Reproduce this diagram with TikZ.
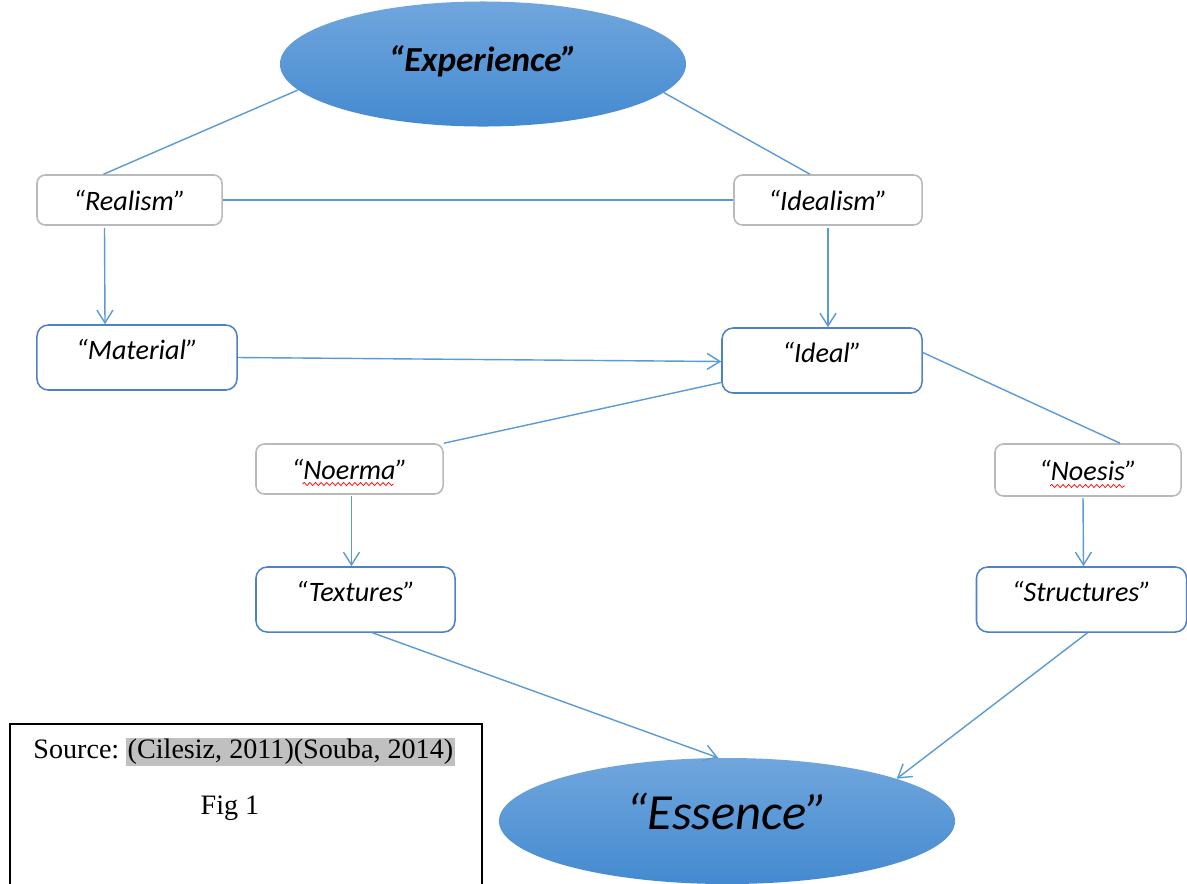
\documentclass[tikz,border=0pt]{standalone}
\usepackage{fontspec}
\setmainfont{Liberation Serif}
\newfontfamily\carl{Carlito}
\usetikzlibrary{shapes.geometric,arrows.meta,calc,decorations.pathmorphing}
\definecolor{lnblue}{RGB}{91,155,213}
\definecolor{bxblue}{RGB}{79,129,201}
\definecolor{bxgray}{RGB}{185,185,185}
\definecolor{elltop}{RGB}{112,166,221}
\definecolor{ellbot}{RGB}{68,138,208}
\definecolor{hlgray}{RGB}{192,192,192}
\tikzset{
  lbl/.style={font=\carl\itshape\fontsize{20}{22}\selectfont, text=black},
  graybox/.style={lbl, draw=bxgray, line width=1.1pt, rounded corners=6pt, fill=white},
  bluebox/.style={lbl, draw=bxblue, line width=1.1pt, rounded corners=8pt, fill=white, text depth=11pt},
  oval/.style={ellipse, draw=none, top color=elltop, bottom color=ellbot, inner sep=0pt},
  conn/.style={draw=lnblue, line width=1pt},
  arr/.style={conn, -{Straight Barb[length=3.2mm,width=4mm,line width=1pt]}},
  squig/.style={draw=red, line width=0.5pt, decorate, decoration={snake, segment length=4, amplitude=1.1}}
}
\begin{document}
\begin{tikzpicture}[x=0.025cm, y=-0.025cm]
\useasboundingbox (0,0) rectangle (1187,883);
\clip (0,0) rectangle (1187,883);
\fill[white] (0,0) rectangle (1187,883);

\node[oval, minimum width=10.15cm, minimum height=3.125cm, text depth=0.25cm,
  font=\carl\bfseries\itshape\fontsize{25}{29}\selectfont] (exp) at (483,64) {“Experience”};
\node[oval, minimum width=11.4cm, minimum height=3.15cm, text depth=0.5cm,
  font=\carl\itshape\fontsize{36}{40}\selectfont] (ess) at (727,821) {“Essence”};

\node[graybox, minimum width=4.625cm, minimum height=1.25cm] (realism) at (129.5,200) {“Realism”};
\node[graybox, minimum width=4.7cm, minimum height=1.25cm] (idealism) at (828,200) {“Idealism”};
\node[bluebox, minimum width=5cm, minimum height=1.625cm] (material) at (137,357.5) {“Material”};
\node[bluebox, minimum width=5cm, minimum height=1.625cm] (ideal) at (822,360.5) {“Ideal”};
\node[graybox, minimum width=4.675cm, minimum height=1.25cm] (noerma) at (349.5,469) {“Noerma”};
\node[graybox, minimum width=4.65cm, minimum height=1.3cm] (noesis) at (1088,470) {“Noesis”};
\node[bluebox, minimum width=4.975cm, minimum height=1.625cm] (textures) at (355.5,599.5) {“Textures”};
\node[bluebox, minimum width=5.25cm, minimum height=1.625cm] (structures) at (1081.5,599.5) {“Structures”};

% spell-check squiggles
\draw[squig] ($(noerma.center)+(-47,15)$) -- ($(noerma.center)+(44,15)$);
\draw[squig] ($(noesis.center)+(-38,16)$) -- ($(noesis.center)+(37,16)$);

% connectors
\draw[conn] (exp.188) -- ($(realism.north)+(-26,0)$);
\draw[conn] (exp.-9) -- ($(idealism.north)+(-18,0)$);
\draw[conn] (realism.east) -- (idealism.west);
\draw[arr] ($(realism.south)+(-25,2)$) -- ($(material.north)+(-32,0)$);
\draw[arr] ($(idealism.south)+(0,2)$) -- ($(ideal.north)+(6,0)$);
\draw[arr] (material.east) -- ($(ideal.west)+(0,1)$);
\draw[conn] ($(ideal.west)+(0,22)$) -- (noerma.north east);
\draw[conn] ($(ideal.east)+(0,-8)$) -- ($(noesis.north)+(32,0)$);
\draw[arr] ($(noerma.south)+(2,1)$) -- ($(textures.north)+(-4,0)$);
\draw[arr] ($(noesis.south)+(-5,1)$) -- ($(structures.north)+(2,0)$);
\draw[arr] ($(textures.south)+(17,0)$) -- (ess.98);
\draw[arr] ($(structures.south)+(6,0)$) -- (ess.14);

% source box
\draw[black, line width=1.1pt] (10,900) -- (10,724) -- (482,724) -- (482,900);
\node[font=\fontsize{20}{24}\selectfont, inner sep=0pt] (src) at (244,752)
  {Source:\hspace{0.25em}{\setlength{\fboxsep}{1pt}\colorbox{hlgray}{(Cilesiz, 2011)(Souba, 2014)}}};
\node[font=\fontsize{20}{24}\selectfont, inner sep=0pt] (fig) at (230,808) {Fig 1};
\end{tikzpicture}
\end{document}
